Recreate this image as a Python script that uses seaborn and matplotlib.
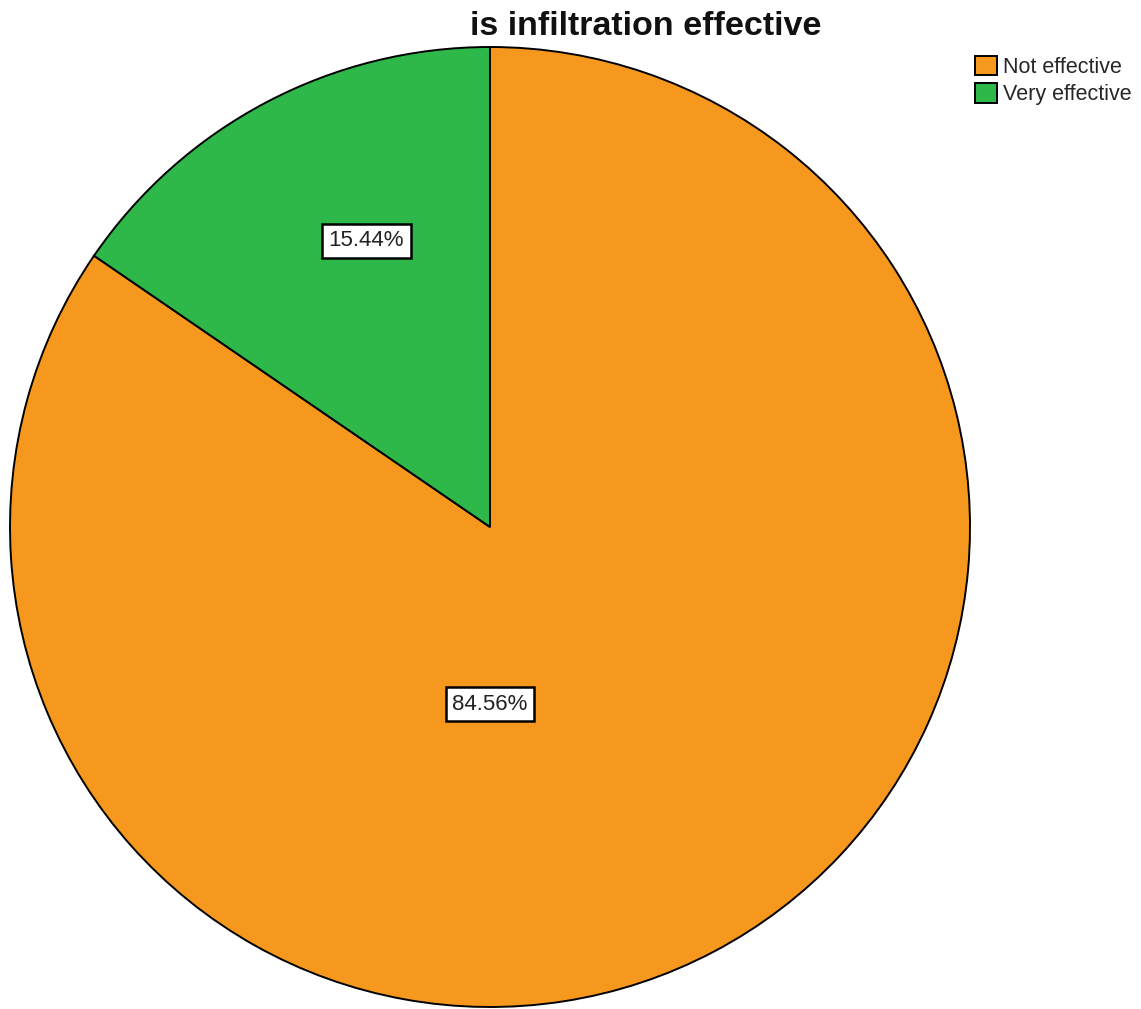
import matplotlib
matplotlib.use("Agg")
import matplotlib.pyplot as plt
import seaborn as sns
from matplotlib.patches import Patch

sns.set_theme(style="white")
plt.rcParams["font.family"] = ["Liberation Sans", "DejaVu Sans"]

categories = ["Not effective", "Very effective"]
percentages = [84.56, 15.44]
colors = ["#F7981E", "#2EB84A"]
title = "is infiltration effective"

W, H = 1141, 1009
fig = plt.figure(figsize=(W / 100, H / 100), dpi=100)
fig.patch.set_facecolor("white")

# pie axes: centre near (490, 527) px, radius ~480 px
cx, cy, r = 490, 527, 480
ax = fig.add_axes([(cx - r) / W, (H - cy - r) / H, 2 * r / W, 2 * r / H])
wedges, _ = ax.pie(
    percentages,
    colors=colors,
    startangle=90,
    counterclock=False,
    radius=1.0,
    wedgeprops=dict(edgecolor="black", linewidth=1.4),
)
ax.set_xlim(-1, 1)
ax.set_ylim(-1, 1)
ax.set_aspect("equal")
ax.axis("off")

# percentage labels in white boxes (positions in pie-radius units)
label_pos = [(0.0, -0.369), (-0.258, 0.596)]
for (lx, ly), pct in zip(label_pos, percentages):
    ax.text(
        lx, ly, f"{pct:.2f}%",
        ha="center", va="center", fontsize=16, color="#222222",
        bbox=dict(boxstyle="square,pad=0.3", facecolor="white",
                  edgecolor="black", linewidth=1.8),
    )

fig.text(646 / W, 1 - 35 / H, title, ha="center", va="baseline",
         fontsize=24.5, fontweight="bold", color="#111111")

handles = [Patch(facecolor=c, edgecolor="black", linewidth=1.4) for c in colors]
fig.legend(
    handles, categories,
    loc="upper left", bbox_to_anchor=(960 / W, 1 - 41 / H),
    frameon=False, fontsize=15.5, handlelength=1.0, handleheight=1.0,
    handletextpad=0.3, labelspacing=0.25, borderpad=0.2,
)

fig.savefig("out.png", dpi=100, facecolor="white")
